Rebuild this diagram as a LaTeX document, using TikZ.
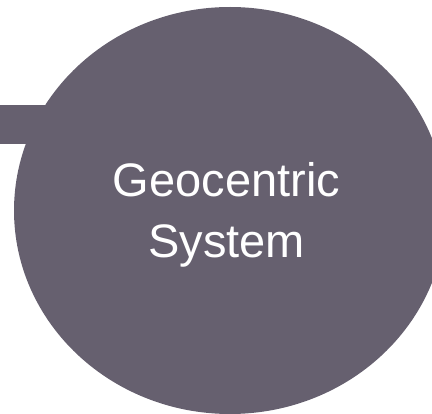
\documentclass[tikz,border=0pt]{standalone}
\usepackage{fontspec}
\setmainfont{Liberation Sans}
\usetikzlibrary{shapes.geometric}
\definecolor{planet}{RGB}{102,96,111}
\tikzset{
  bigdisc/.style={ellipse, fill=planet, draw=none, inner sep=0pt, minimum width=432pt, minimum height=407pt},
  barline/.style={draw=planet, line width=39pt, line cap=butt},
  label/.style={text=white, align=center, inner sep=0pt, font={\fontsize{47}{60.4}\selectfont}}
}
\begin{document}
\begin{tikzpicture}[x=1pt,y=1pt]
\useasboundingbox (0,0) rectangle (432,-414);
\clip (0,0) rectangle (432,-414);
\coordinate (barstart) at (0,-124.5);
\coordinate (barend) at (120,-124.5);
\draw[barline] (barstart) -- (barend);
\node[bigdisc] (sys) at (230,-210.5) {};
\node[label] (txt) at (226.5,-215) {Geocentric\\System};
\end{tikzpicture}
\end{document}
